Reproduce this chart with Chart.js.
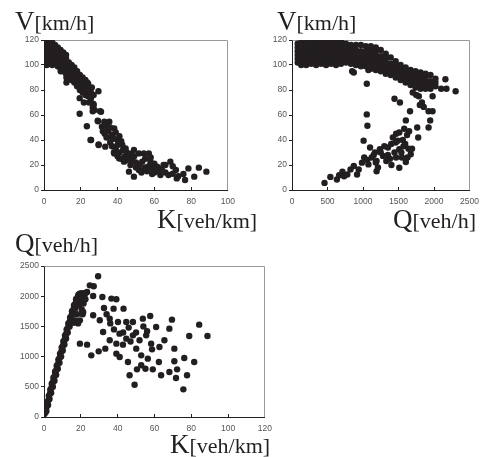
<!DOCTYPE html>
<html>
<head>
<meta charset="utf-8">
<script src="https://cdn.jsdelivr.net/npm/chart.js@4"></script>
<style>
  html, body { margin: 0; padding: 0; background: #fff; overflow: hidden; }
  body { width: 489px; height: 457px; position: relative; }
  canvas { position: absolute; }
  .lab { position: absolute; font-family: "Liberation Serif", serif; color: #231f20; white-space: nowrap; line-height: 28px; }
  .lab b { font-weight: normal; font-size: 27px; }
  .lab span { font-size: 22px; }
</style>
</head>
<body>
<canvas id="c1" width="245" height="185" style="left:0px;top:30px"></canvas>
<canvas id="c2" width="244" height="185" style="left:245px;top:30px"></canvas>
<canvas id="c3" width="282" height="186" style="left:0px;top:256px"></canvas>

<div class="lab" style="left:15px;top:7px"><b>V</b><span>[km/h]</span></div>
<div class="lab" style="left:157px;top:205px"><b>K</b><span>[veh/km]</span></div>
<div class="lab" style="left:277px;top:7px"><b>V</b><span>[km/h]</span></div>
<div class="lab" style="left:393px;top:205px"><b>Q</b><span>[veh/h]</span></div>
<div class="lab" style="left:15px;top:229px"><b>Q</b><span>[veh/h]</span></div>
<div class="lab" style="left:170px;top:430px"><b>K</b><span>[veh/km]</span></div>

<script>
// tick labels
var kTicks = [0, 20, 40, 60, 80, 100, 120];
var vTicks = [0, 20, 40, 60, 80, 100, 120];
var qTicks = [0, 500, 1000, 1500, 2000, 2500];

// chart 1 : speed against density (K, V)
var kvK = [
  0.5,0.5,0.5,0.5,0.5,0.5,0.5,
  1.5,1.5,1.5,1.5,1.5,1.5,1.5,1.5,
  3,3,3,3,3,3,3,
  4.5,4.5,4.5,4.5,4.5,4.5,4.5,
  6,6,6,6,6,6,
  7.5,7.5,7.5,7.5,7.5,7.5,
  9,9,9,9,9,9,
  10.5,10.5,10.5,10.5,10.5,10.5,
  12,12,12,12,12,12,
  13.5,13.5,13.5,13.5,13.5,
  15,15,15,15,15,
  16.5,16.5,16.5,16.5,16.5,
  18,18,18,18,18,
  19.5,19.5,19.5,19.5,19.5,
  21,21,21,21,21,
  22.5,22.5,22.5,22.5,
  24,24,24,
  25.5,25.5,
  9.1,12.2,12.2,19.4,21.7,19.4,23.3,25.3,27.5,29.6,27,29.7,30.5,29.4,26.9,26.5,31,29.2,32.8,35.5,
  31.5,34.6,38.2,25.6,29.7,33.3,36.4,40,42.6,44.4,38.2,40.9,43.5,46.2,48.9,51.6,54.3,57,53.4,57.9,
  46.2,48.9,51.6,54.3,58.8,63.3,61.5,65,68.7,67.7,71.7,72.2,75.8,76.7,78.5,81.7,84.2,88.3,
  33,34,35,36,37,37,38,39,39,40,41,41,42,43,44,45,45,36,34,32,38,40,42,47,48,50,50,52,53,55,
  55,56,57,59,60,60,62,64,66,66,70,70,73,47,49,58,
  26,27,24.5,26.5,23.5
];
var kvV = [
  101,104,107,110,113,116,119,
  100,103,106,109,112,115,118,120,
  101,104,107,110,113,116,119,
  100,103,106,109,112,115,118,
  101,104,107,110,113,116,
  99,102,105,108,111,114,
  97,100,103,106,109,112,
  95,98,101,104,107,110,
  93,96,99,102,105,108,
  90,93,96,99,102,
  88,91,94,97,100,
  86,89,92,95,98,
  83,86,89,92,95,
  80,83,86,89,92,
  78,81,84,87,90,
  76,80,84,88,
  75,80,85,
  73,78,
  95,90,86,73.5,70,61,51,40,64,79,68,36.4,63,55,68.8,63,62.6,55.5,54.7,54.7,
  50.7,49.3,49.3,40,36,34.7,42.7,40,36,33.3,29.3,25.3,22.7,26.7,32,29.3,29.3,29.3,22.7,22.7,
  14.7,10.7,16,16,12.8,12,18.7,20,22.7,12,16,9.3,12.8,8,17.3,10.7,17.9,14.7,
  45,42,47,38,44,35,41,46,33,36,43,30,39,32,27,30,24,50,52,47,30,27,25,20,24,18,22,20,14,18,
  25,15,19,17,14,21,15,17,14,20,19,13,11,29,27,26,
  82,76,70,66,86
];

// chart 2 : speed against flow (Q, V)
var qvQ = [
  80,80,80,80,80,80,
  130,130,130,130,130,130,130,
  200,200,200,200,200,200,200,200,
  270,270,270,270,270,270,270,
  340,340,340,340,340,340,340,340,
  410,410,410,410,410,410,410,
  480,480,480,480,480,480,480,
  550,550,550,550,550,550,550,
  620,620,620,620,620,620,620,
  690,690,690,690,690,690,690,
  760,760,760,760,760,760,
  830,830,830,830,830,830,
  900,900,900,900,900,900,
  970,970,970,970,970,970,
  1040,1040,1040,1040,1040,1040,
  1110,1110,1110,1110,1110,1110,1110,
  1180,1180,1180,1180,1180,1180,1180,
  1250,1250,1250,1250,1250,1250,
  1320,1320,1320,1320,1320,1320,
  1390,1390,1390,1390,1390,
  1460,1460,1460,1460,1460,
  1530,1530,1530,1530,1530,
  1600,1600,1600,1600,1600,
  1670,1670,1670,1670,1670,
  1740,1740,1740,1740,1740,
  1810,1810,1810,1810,1810,
  1880,1880,1880,1880,1880,
  1950,1950,1950,1950,
  2020,2020,2020,
  847,870,1076,1053,2175,2304,2160,1443,1520,1786,1855,1662,1923,1979,1946,1923,1763,1777,1053,1062,
  1603,1580,1649,1800,1830,1700,1750,1980,2100,
  458,540,632,664,710,779,824,870,939,985,1017,1076,1122,1168,1191,1237,1282,1328,1351,1397,
  1443,1488,1511,1548,1594,1626,1672,1008,1099,1466,1511,1466,1603,1511,1191,916,733,
  1300,1350,1420,1460,1540,1560,1620,1640,1250,1380,1180,1210,1400,1570,1690,1060,1150
];
var qvV = [
  102,105,108,111,114,117,
  100,103,106,109,112,115,118,
  100,103,106,109,112,115,118,120,
  101,104,107,110,113,116,119,
  100,103,106,109,112,115,118,120,
  101,104,107,110,113,116,119,
  100,103,106,109,112,115,118,
  101,104,107,110,113,116,119,
  100,103,106,109,112,115,118,
  101,104,107,110,113,116,119,
  102,105,108,111,114,117,
  101,104,107,110,113,116,
  100,103,106,109,112,116,
  99,102,105,108,111,116,
  99,102,105,108,111,115,
  97,100,103,106,109,112,115,
  96,99,102,105,108,111,114,
  95,98,101,104,107,112,
  93,96,99,102,105,109,
  92,95,98,101,106,
  90,93,96,99,103,
  88,91,94,97,100,
  86,89,92,95,98,
  84,87,90,93,96,
  82,85,88,91,95,
  81,84,87,90,94,
  81,84,87,90,93,
  81,84,87,92,
  83,86,89,
  95,94,96,85,81,79,88.6,73,70,75,66.5,63,63,63,55.7,50,50,42,60.5,51.4,
  55.7,49,47,68,70,78,76,75,81,
  5.7,10.5,8.4,11.9,14.6,12.4,16.5,19.2,16.5,21.9,26,20.5,26,30,23.2,32.7,27.3,23.2,34,36.8,
  30,39.5,32.7,26,36.8,26,28.6,39.5,34,45,46,26,22.4,17.8,15,12.4,11,
  35,28,42,38,30,40,44,33,30,25,22,18,20,35,33,24,28
];

// chart 3 : flow against density (K, Q)
var kqK = [
  0.3,1,1.8,2.6,3.4,4.2,5.1,6,6.9,7.8,8.7,9.6,10.5,11.4,12.3,13.2,14.2,15.2,16.3,17.4,18.6,
  1.3,2.2,3,3.9,4.8,5.7,6.6,7.5,8.4,9.3,10.2,11.1,12,12.9,13.9,14.9,15.9,17,18.1,19.2,20.4,21.5,22,
  0.8,1.6,2.4,3.2,4,4.9,5.8,6.7,7.6,8.5,9.4,10.3,11.2,12.1,13,14,15,16,17.1,18.2,19.3,
  19,20,21,22,20.5,21.5,18,17,16,22.5,23,20,21,19.5,18.5,
  29.4,24.9,27,23.4,26.7,31.7,36.6,39.3,32.6,37.8,43.2,21.3,26.7,30.3,35.7,40.2,44.7,48.3,53.7,57.7,
  60.9,69.5,68.1,84.3,88.8,78.9,70.8,65.4,62.7,58.7,55.5,51.9,50.1,48.3,44.7,42.9,39.3,35.7,32.1,19.5,
  23.4,29.7,25.7,33.3,39.3,41.1,45.6,46.5,49.2,50.5,52.8,55.1,52.8,56.4,59.1,62.4,63.6,68.1,70.8,72.3,
  71.7,76.2,81.6,77.7,75.7,58.2,34,38,41,46,36,43,47,54,56,50
];
var kqQ = [
  50,150,250,350,450,550,650,750,850,950,1050,1150,1250,1350,1450,1550,1650,1750,1850,1950,2020,
  100,200,300,400,500,600,700,800,900,1000,1100,1200,1300,1400,1500,1600,1700,1800,1900,2000,2050,1950,2050,
  80,180,280,380,480,580,680,780,880,980,1080,1180,1280,1380,1480,1580,1680,1780,1880,1980,2040,
  1850,1900,1980,2020,1780,1880,1700,1600,1560,1950,2060,2000,1700,1600,1550,
  2330,2180,2164,2070,2004,1987,1960,1949,1805,1794,1794,1739,1684,1601,1628,1573,1573,1573,1628,1672,
  1490,1612,1463,1529,1341,1341,1132,1270,1159,1120,1352,1270,1132,1352,1297,1198,1214,1270,1408,1214,
  1198,1087,1021,1132,1049,994,911,690,535,789,856,800,1021,966,789,911,690,745,922,789,
  646,977,911,690,458,1214,1700,1450,1380,1480,1550,1400,1250,1500,1420,1400
];

function toPoints(xs, ys) {
  return xs.map(function (x, i) { return { x: x, y: ys[i] }; });
}

// gray frame on top and right of plot area
var framePlugin = {
  id: "frame",
  beforeDatasetsDraw: function (chart) {
    var a = chart.chartArea, ctx = chart.ctx;
    ctx.save();
    ctx.strokeStyle = "#9a9a9a";
    ctx.lineWidth = 1;
    ctx.beginPath();
    ctx.moveTo(Math.round(a.left) + 0.5, Math.round(a.top) + 0.5);
    ctx.lineTo(Math.round(a.right) - 0.5, Math.round(a.top) + 0.5);
    ctx.lineTo(Math.round(a.right) - 0.5, Math.round(a.bottom));
    ctx.stroke();
    ctx.restore();
  }
};

var tickFont = { family: "Liberation Sans", size: 8.5 };
function plain(v) { return String(v); }

function makeChart(id, pts, xTicks, yTicks, yWidth) {
  return new Chart(document.getElementById(id), {
    type: "scatter",
    data: {
      datasets: [{
        data: pts,
        backgroundColor: "#231f20",
        borderWidth: 0,
        pointRadius: 3.2
      }]
    },
    options: {
      responsive: false,
      animation: false,
      events: [],
      layout: { padding: { top: 10, right: 15, left: 0, bottom: 0 } },
      plugins: { legend: { display: false }, tooltip: { enabled: false } },
      scales: {
        x: {
          type: "linear",
          min: xTicks[0],
          max: xTicks[xTicks.length - 1],
          afterBuildTicks: function (s) { s.ticks = xTicks.map(function (v) { return { value: v }; }); },
          afterFit: function (s) { s.height = 25; },
          border: { color: "#231f20", width: 1 },
          grid: { drawOnChartArea: false, drawTicks: true, tickLength: -3, color: "#231f20" },
          ticks: { font: tickFont, color: "#555", padding: 10, maxRotation: 0, callback: plain }
        },
        y: {
          type: "linear",
          min: yTicks[0],
          max: yTicks[yTicks.length - 1],
          afterBuildTicks: function (s) { s.ticks = yTicks.map(function (v) { return { value: v }; }); },
          afterFit: function (s) { s.width = yWidth; },
          border: { color: "#231f20", width: 1 },
          grid: { drawOnChartArea: false, drawTicks: true, tickLength: 3, color: "#231f20" },
          ticks: { font: tickFont, color: "#555", padding: 2, callback: plain }
        }
      }
    },
    plugins: [framePlugin]
  });
}

makeChart("c1", toPoints(kvK, kvV), kTicks.slice(0, 6), vTicks, 44);
makeChart("c2", toPoints(qvQ, qvV), qTicks, vTicks, 47);
makeChart("c3", toPoints(kqK, kqQ), kTicks, qTicks, 44);
</script>
</body>
</html>
